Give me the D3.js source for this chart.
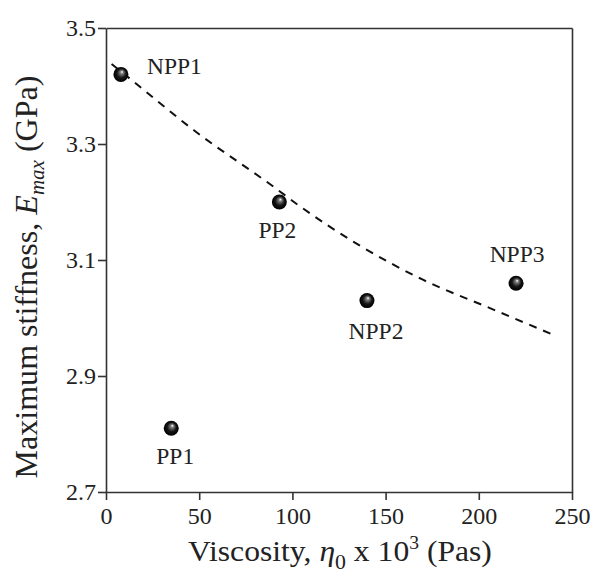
<!DOCTYPE html>
<html>
<head>
<meta charset="utf-8">
<script src="https://cdn.jsdelivr.net/npm/d3@7"></script>
<style>
  body { margin: 0; background: #fff; }
  svg text { font-family: "Liberation Serif", "Times New Roman", serif; fill: #222; }
</style>
</head>
<body>
<svg id="chart"></svg>
<script>
// Data
const samples = ["NPP1", "PP1", "PP2", "NPP2", "NPP3"];
const viscosity = [8, 35, 93, 140, 220];          // eta0 x 10^3 (Pas)
const stiffness = [3.42, 2.81, 3.20, 3.03, 3.06]; // Emax (GPa)

// dashed trend curve
const fitViscosity = [3, 15, 47, 90, 103, 170, 206, 240];
const fitStiffness = [3.438, 3.407, 3.324, 3.226, 3.195, 3.066, 3.017, 2.971];

const xTicks = [0, 50, 100, 150, 200, 250];
const yTicks = [2.7, 2.9, 3.1, 3.3, 3.5];

// label placement relative to each point (px)
const labelOffset = {
  NPP1: { dx: 26, dy: 0, anchor: "start" },
  PP1: { dx: 4, dy: 36, anchor: "middle" },
  PP2: { dx: -2, dy: 36, anchor: "middle" },
  NPP2: { dx: 9, dy: 38, anchor: "middle" },
  NPP3: { dx: 1, dy: -21, anchor: "middle" },
};

// Set up dimensions and margins
const width = 596, height = 578;
const margin = { top: 28, right: 24, bottom: 86, left: 106 };
const innerW = width - margin.left - margin.right;
const innerH = height - margin.top - margin.bottom;
const serif = "'Liberation Serif', 'Times New Roman', serif";

const svg = d3.select("#chart").attr("width", width).attr("height", height);

// shaded ball marker
const grad = svg.append("defs").append("radialGradient")
  .attr("id", "ball")
  .attr("cx", "50%").attr("cy", "50%").attr("r", "50%")
  .attr("fx", "58%").attr("fy", "32%");
grad.append("stop").attr("offset", "0%").attr("stop-color", "#ffffff");
grad.append("stop").attr("offset", "22%").attr("stop-color", "#7a7a7a");
grad.append("stop").attr("offset", "60%").attr("stop-color", "#151515");
grad.append("stop").attr("offset", "100%").attr("stop-color", "#000000");

const g = svg.append("g").attr("transform", `translate(${margin.left},${margin.top})`);

// Scales
const x = d3.scaleLinear().domain([0, 250]).range([0, innerW]);
const y = d3.scaleLinear().domain([2.7, 3.5]).range([innerH, 0]);

// Axes (ticks outward on left and bottom, plain frame on top and right)
const xAxis = g.append("g")
  .attr("transform", `translate(0,${innerH})`)
  .call(d3.axisBottom(x).tickValues(xTicks).tickSize(8).tickSizeOuter(0).tickFormat(d3.format("d")));
const yAxis = g.append("g")
  .call(d3.axisLeft(y).tickValues(yTicks).tickSize(8).tickSizeOuter(0).tickFormat(d3.format(".1f")));
g.append("g").call(d3.axisTop(x).tickValues([]).tickSizeOuter(0));
g.append("g").attr("transform", `translate(${innerW},0)`)
  .call(d3.axisRight(y).tickValues([]).tickSizeOuter(0));

g.selectAll(".domain").attr("stroke", "#333").attr("stroke-width", 1.6);
g.selectAll(".tick line").attr("stroke", "#333").attr("stroke-width", 1.6);

[xAxis, yAxis].forEach((a) => a.attr("font-family", serif).attr("font-size", 24));
xAxis.selectAll("text")
  .attr("dy", null)
  .attr("y", 32)
  .style("font-family", serif)
  .attr("fill", "#222");
yAxis.selectAll("text")
  .attr("x", -10)
  .attr("dy", "0.33em")
  .style("font-family", serif)
  .attr("fill", "#222");

// Dashed trend curve
const line = d3.line()
  .x((d, i) => x(fitViscosity[i]))
  .y((d) => y(d))
  .curve(d3.curveMonotoneX);
g.append("path")
  .datum(fitStiffness)
  .attr("d", line)
  .attr("fill", "none")
  .attr("stroke", "#111")
  .attr("stroke-width", 2)
  .attr("stroke-dasharray", "8,7");

// Points
const pts = samples.map((s, i) => ({ name: s, v: viscosity[i], e: stiffness[i] }));
g.selectAll(".pt")
  .data(pts)
  .enter()
  .append("circle")
  .attr("class", "pt")
  .attr("cx", (d) => x(d.v))
  .attr("cy", (d) => y(d.e))
  .attr("r", 7.5)
  .attr("fill", "url(#ball)");

// Point labels
g.selectAll(".lbl")
  .data(pts)
  .enter()
  .append("text")
  .attr("class", "lbl")
  .attr("x", (d) => x(d.v) + labelOffset[d.name].dx)
  .attr("y", (d) => y(d.e) + labelOffset[d.name].dy)
  .attr("text-anchor", (d) => labelOffset[d.name].anchor)
  .attr("font-size", 23.5)
  .text((d) => d.name);

// X axis title (stretched a little to the reference width)
const xtG = svg.append("g");
const xt = xtG.append("text")
  .attr("x", 0)
  .attr("y", 0)
  .attr("text-anchor", "middle")
  .attr("font-size", 29);
xt.append("tspan").text("Viscosity, ");
xt.append("tspan").attr("font-style", "italic").text("η");
xt.append("tspan").attr("font-size", 20).attr("dy", 8).text("0");
xt.append("tspan").attr("dy", -8).text(" x 10");
xt.append("tspan").attr("font-size", 18).attr("dy", -12).text("3");
xt.append("tspan").attr("dy", 12).text(" (Pas)");
const xtW = xt.node().getComputedTextLength();
xtG.attr("transform", `translate(340,561) scale(${304 / xtW},1)`);

// Y axis title
const ytG = svg.append("g");
const yt = ytG.append("text")
  .attr("text-anchor", "middle")
  .attr("font-size", 32);
yt.append("tspan").text("Maximum stiffness, ");
yt.append("tspan").attr("font-style", "italic").text("E");
yt.append("tspan").attr("font-style", "italic").attr("font-size", 21).attr("dy", 7).text("max");
yt.append("tspan").attr("dy", -7).text(" (GPa)");
const ytW = yt.node().getComputedTextLength();
ytG.attr("transform", `translate(37,277) rotate(-90) scale(${403 / ytW},1)`);
</script>
</body>
</html>
